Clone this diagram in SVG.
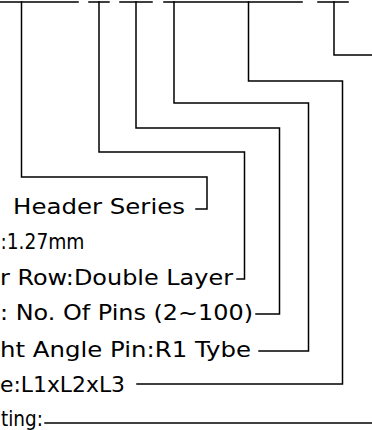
<svg xmlns="http://www.w3.org/2000/svg" width="372" height="430" viewBox="0 0 372 430">
  <style>
    .lbl { font-family: "DejaVu Sans", "Liberation Sans", sans-serif; font-size: 20.5px; fill: #000; }
    .ln { fill: none; stroke: #000; stroke-width: 1.5; stroke-linecap: square; }
  </style>
  <rect width="372" height="430" fill="#fff"/>
  <g id="connectors" class="ln">
    <path d="M0 2 H78 M89 2 H109 M120 2 H152 M164 2 H302 M318 2 H348"/>
    <path d="M21.5 2 V177 H207 V209 H196"/>
    <path d="M99 2 V152 H244.5 V279 H237"/>
    <path d="M136 2 V128 H279.5 V314 H256"/>
    <path d="M174 2 V103 H308.5 V351 H259"/>
    <path d="M248.5 2 V81 H342.5 V384 H137"/>
    <path d="M334 2 V55 H373"/>
    <path d="M45 423 H373"/>
  </g>
  <g id="node-series"><text class="lbl" x="13" y="213.5" textLength="172" lengthAdjust="spacingAndGlyphs">Header Series</text></g>
  <g id="node-pitch"><text class="lbl" x="0.5" y="249" textLength="84" lengthAdjust="spacingAndGlyphs">:1.27mm</text></g>
  <g id="node-row"><text class="lbl" x="0" y="284.5" textLength="233" lengthAdjust="spacingAndGlyphs">r Row:Double Layer</text></g>
  <g id="node-pins"><text class="lbl" x="0" y="320" textLength="253" lengthAdjust="spacingAndGlyphs">: No. Of Pins (2~100)</text></g>
  <g id="node-angle"><text class="lbl" x="0" y="356.5" textLength="251" lengthAdjust="spacingAndGlyphs">ht Angle Pin:R1 Tybe</text></g>
  <g id="node-size"><text class="lbl" x="0" y="391.5" textLength="125" lengthAdjust="spacingAndGlyphs">e:L1xL2xL3</text></g>
  <g id="node-plating"><text class="lbl" x="1" y="425.5" textLength="42" lengthAdjust="spacingAndGlyphs">ting:</text></g>
</svg>
